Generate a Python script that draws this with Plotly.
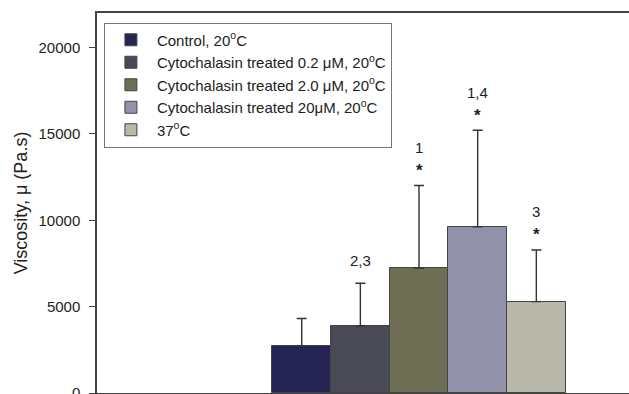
import plotly.graph_objects as go

groups = ["Control, 20<sup>o</sup>C",
          "Cytochalasin treated 0.2 \u03bcM, 20<sup>o</sup>C",
          "Cytochalasin treated 2.0 \u03bcM, 20<sup>o</sup>C",
          "Cytochalasin treated 20\u03bcM, 20<sup>o</sup>C",
          "37<sup>o</sup>C"]
positions = [0, 1, 2, 3, 4]
means = [2730, 3890, 7240, 9620, 5290]
sds = [1580, 2460, 4770, 5590, 2990]
labels = ["", "2,3", "1", "1,4", "3"]
stars = [False, False, True, True, True]
colors = ["#262455", "#4a4a57", "#6e6e55", "#9192a9", "#b8b9aa"]
yticks = [0, 5000, 10000, 15000, 20000]

FONT = "Liberation Sans, Arial, sans-serif"

fig = go.Figure()
for i in range(len(groups)):
    fig.add_trace(go.Bar(
        x=[positions[i]], y=[means[i]], name=groups[i], width=1,
        marker=dict(color=colors[i], line=dict(color="#444444", width=1)),
        error_y=dict(type="data", symmetric=False, array=[sds[i]], arrayminus=[0],
                     color="#333333", thickness=1.4, width=5),
    ))
    top = means[i] + sds[i]
    if stars[i]:
        fig.add_annotation(x=positions[i], y=top, text="<b>*</b>", showarrow=False,
                           yanchor="middle", yshift=15, font=dict(size=17, color="#222"))
        fig.add_annotation(x=positions[i], y=top, text=labels[i], showarrow=False,
                           yanchor="middle", yshift=38, font=dict(size=15, color="#222"))
    elif labels[i]:
        fig.add_annotation(x=positions[i], y=top, text=labels[i], showarrow=False,
                           yanchor="middle", yshift=23, font=dict(size=15, color="#222"))

fig.update_layout(
    width=629, height=394,
    margin=dict(l=97, r=0, t=13, b=1, pad=0, autoexpand=False),
    paper_bgcolor="white", plot_bgcolor="white",
    font=dict(family=FONT, size=15, color="#222222"),
    barmode="overlay", bargap=0,
    showlegend=True,
    legend=dict(x=0.013, y=0.975, xanchor="left", yanchor="top",
                bordercolor="#777777", borderwidth=1, bgcolor="white",
                font=dict(size=15, color="#222222"), tracegroupgap=0,
                traceorder="normal", itemwidth=42),
    xaxis=dict(range=[-3.49, 5.58], showticklabels=False, ticks="",
               showgrid=False, zeroline=False, showline=True, linecolor="#444444",
               linewidth=1.5, mirror=True, automargin=False),
    yaxis=dict(range=[0, 22000], tickvals=yticks, tickformat="d", ticks="outside", ticklen=6,
               tickwidth=1.2, tickcolor="#444444", showgrid=False, zeroline=False,
               showline=True, linecolor="#444444", linewidth=1.5,
               ticklabeloverflow="allow", ticklabelstandoff=6, automargin=False,
               tickfont=dict(size=15, color="#222222"),
               title=dict(text="Viscosity, \u03bc (Pa.s)", font=dict(size=18, color="#222222"),
                          standoff=6)),
)

fig.write_html("out.html")
